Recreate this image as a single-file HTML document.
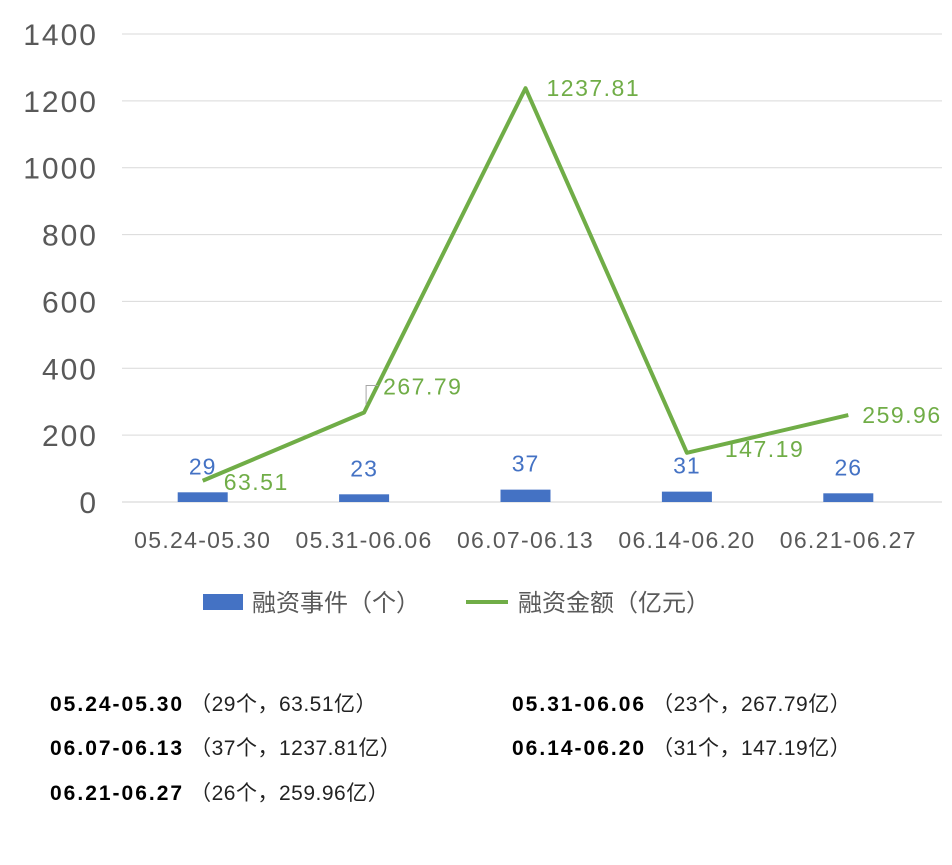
<!DOCTYPE html>
<html><head><meta charset="utf-8"><style>
body{margin:0;background:#fff;width:952px;height:865px;overflow:hidden;font-family:"Liberation Sans","Noto Sans CJK SC",sans-serif}
.note{position:absolute;font-size:21px;color:#222;letter-spacing:0.5px;font-family:"Liberation Sans","Noto Sans CJK SC",sans-serif;white-space:nowrap}
.note b{font-weight:bold;color:#000;letter-spacing:2px;margin-right:6px}
</style></head><body>
<svg id="chart" width="952" height="660" style="position:absolute;left:0;top:0" font-family="Liberation Sans, Noto Sans CJK SC, sans-serif"></svg>
<div class="note" style="left:50px;top:688px"><b>05.24-05.30</b>（29个，63.51亿）</div>
<div class="note" style="left:512px;top:688px"><b>05.31-06.06</b>（23个，267.79亿）</div>
<div class="note" style="left:50px;top:732px"><b>06.07-06.13</b>（37个，1237.81亿）</div>
<div class="note" style="left:512px;top:732px"><b>06.14-06.20</b>（31个，147.19亿）</div>
<div class="note" style="left:50px;top:777px"><b>06.21-06.27</b>（26个，259.96亿）</div>
<script>
const categories=["05.24-05.30","05.31-06.06","06.07-06.13","06.14-06.20","06.21-06.27"];
const eventCounts=[29,23,37,31,26];
const amounts=[63.51,267.79,1237.81,147.19,259.96];
const yTicks=[0,200,400,600,800,1000,1200,1400];
const svg=document.getElementById('chart');
const NS='http://www.w3.org/2000/svg';
const x0=122,x1=929,yBase=502,yTop=34,yMax=1400;
const band=(x1-x0)/categories.length;
const xs=i=>x0+band*(i+0.5);
const ys=v=>yBase-(v/yMax)*(yBase-yTop);
function mk(tag,attrs,parent){const e=document.createElementNS(NS,tag);for(const k in attrs)e.setAttribute(k,attrs[k]);(parent||svg).appendChild(e);return e;}
yTicks.forEach(t=>{
  const g=mk('line',{x1:x0,x2:942,y1:ys(t),y2:ys(t),stroke:t===0?'#d0d0d0':'#d9d9d9','stroke-width':1});
  
  
  const l=mk('text',{x:98,y:ys(t)+11,'text-anchor':'end','font-size':30,'letter-spacing':2,fill:'#595959'});
  l.textContent=t;
  
  
});
categories.forEach((c,i)=>{
  const t=mk('text',{x:xs(i),y:548,'text-anchor':'middle','font-size':23,'letter-spacing':1.3,fill:'#595959'});
  t.textContent=c;
  
  
  const b=mk('rect',{x:xs(i)-25,y:ys(eventCounts[i]),width:50,height:yBase-ys(eventCounts[i]),fill:'#4472c4'});
  
  
  const bl=mk('text',{x:xs(i),y:ys(eventCounts[i])-18,'text-anchor':'middle','font-size':23,'letter-spacing':1,fill:'#4472c4'});
  bl.textContent=eventCounts[i];
  
  
});
const pts=amounts.map((v,i)=>xs(i)+','+ys(v)).join(' ');
const line=mk('polyline',{points:pts,fill:'none',stroke:'#70ad47','stroke-width':4,'stroke-linejoin':'round'});


const lead=mk('polyline',{points:(xs(1)+2)+','+(ys(amounts[1])-8)+' '+(xs(1)+2)+','+(ys(amounts[1])-27)+' '+(xs(1)+14)+','+(ys(amounts[1])-27),fill:'none',stroke:'#a6a6a6','stroke-width':1});


const offs=[[21,9],[19,-18],[21,8],[38,4],[14,8]];
amounts.forEach((v,i)=>{
  const t=mk('text',{x:xs(i)+offs[i][0],y:ys(v)+offs[i][1],'font-size':23,'letter-spacing':1.5,fill:'#70ad47'});
  t.textContent=v;
  
  
});
const lr=mk('rect',{x:203,y:594,width:40,height:16,fill:'#4472c4'});


const lt=mk('text',{x:252,y:611,'font-size':24,fill:'#595959'});
lt.textContent='融资事件（个）';


const ll=mk('line',{x1:466,x2:508,y1:602,y2:602,stroke:'#70ad47','stroke-width':4});


const lt2=mk('text',{x:518,y:611,'font-size':24,fill:'#595959'});
lt2.textContent='融资金额（亿元）';


</script>
</body></html>
